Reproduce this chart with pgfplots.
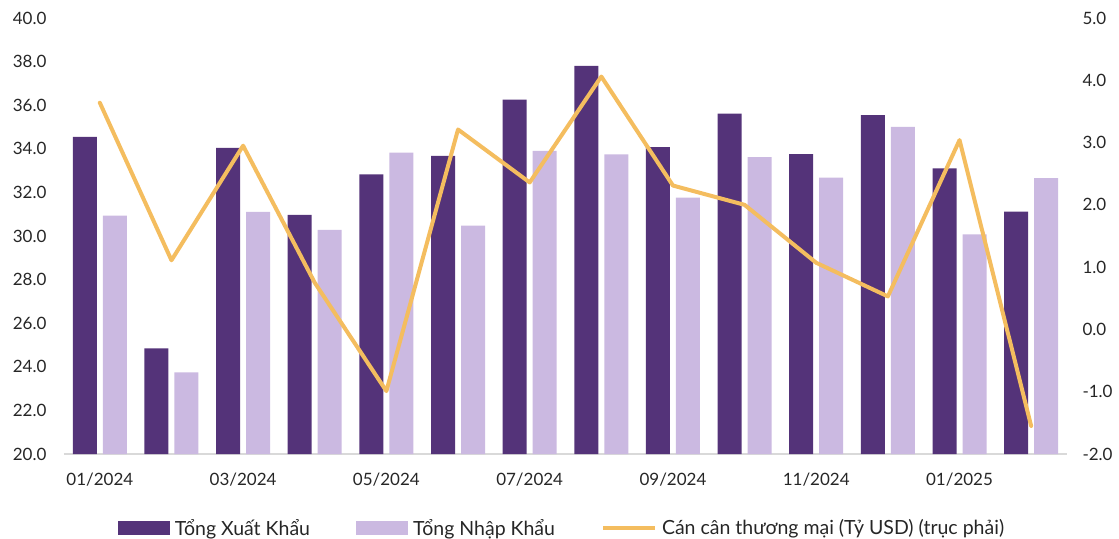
\documentclass[border=0pt]{standalone}
\usepackage{fontspec}
\setmainfont{Lato}
\usepackage{pgfplots}
\pgfplotsset{compat=1.18}
\definecolor{expc}{HTML}{543379}
\definecolor{impc}{HTML}{CBB9E1}
\definecolor{balc}{HTML}{F4BD5F}
\definecolor{axisgray}{HTML}{D9D9D9}
\definecolor{txt}{HTML}{262626}

\pgfplotstableread{
x exp imp bal
0 34.55 30.94 3.64
1 24.84 23.75 1.11
2 34.04 31.11 2.95
3 30.97 30.28 0.75
4 32.83 33.82 -0.99
5 33.68 30.48 3.21
6 36.25 33.90 2.36
7 37.80 33.74 4.06
8 34.08 31.76 2.31
9 35.61 33.62 2.00
10 33.76 32.68 1.07
11 35.55 35.01 0.53
12 33.10 30.07 3.04
13 31.12 32.66 -1.55
}\datatable

\begin{document}
\begin{tikzpicture}
\begin{axis}[
  scale only axis, width=1003bp, height=436bp,
  xmin=-0.5, xmax=13.5, ymin=20, ymax=40,
  axis x line*=bottom, axis y line*=left,
  x axis line style={draw=axisgray, line width=1.5bp},
  y axis line style={draw=none},
  ytick={20,22,...,40},
  yticklabel={\pgfmathprintnumber[fixed,fixed zerofill,precision=1,assume math mode=true]{\tick}},
  xtick={0,2,...,12},
  xticklabels={01/2024,03/2024,05/2024,07/2024,09/2024,11/2024,01/2025},
  major tick length=0pt,
  tick label style={font=\fontsize{17bp}{20bp}\selectfont, text=txt},
  yticklabel style={xshift=-14bp},
  xticklabel style={yshift=-15bp},
  legend columns=3,
  legend style={draw=none, fill=none, at={(0.4965,-0.17)}, anchor=center,
    font=\fontsize{19.5bp}{22bp}\selectfont, text=txt,
    /tikz/every odd column/.append style={column sep=3bp},
    /tikz/every even column/.append style={column sep=44bp}},
  clip=true,
]
\addplot[ybar, bar width=24bp, bar shift=-15bp, fill=expc, draw=none,
  legend image code/.code={\fill[expc] (0bp,-7bp) rectangle (52bp,7bp);}]
  table[x=x, y=exp] {\datatable};
\addlegendentry{Tổng Xuất Khẩu}
\addplot[ybar, bar width=24bp, bar shift=15bp, fill=impc, draw=none,
  legend image code/.code={\fill[impc] (0bp,-7bp) rectangle (52bp,7bp);}]
  table[x=x, y=imp] {\datatable};
\addlegendentry{Tổng Nhập Khẩu}
\addlegendimage{legend image code/.code={\draw[balc, line width=4bp] (0bp,0bp) -- (52bp,0bp);}}
\addlegendentry{Cán cân thương mại (Tỷ USD) (trục phải)}
\end{axis}
\begin{axis}[
  scale only axis, width=1003bp, height=436bp,
  xmin=-0.5, xmax=13.5, ymin=-2, ymax=5,
  axis x line=none, axis y line*=right,
  y axis line style={draw=none},
  ytick={-2,-1,...,5},
  yticklabel={\pgfmathprintnumber[fixed,fixed zerofill,precision=1,assume math mode=true]{\tick}},
  major tick length=0pt,
  tick label style={font=\fontsize{17bp}{20bp}\selectfont, text=txt},
  yticklabel style={xshift=12bp},
]
\addplot[balc, line width=4bp, line join=round, line cap=round, mark=none]
  table[x=x, y=bal] {\datatable};
\end{axis}
\pgfresetboundingbox
\useasboundingbox (-64bp,-85bp) rectangle (1055bp,454bp);
\end{tikzpicture}
\end{document}
